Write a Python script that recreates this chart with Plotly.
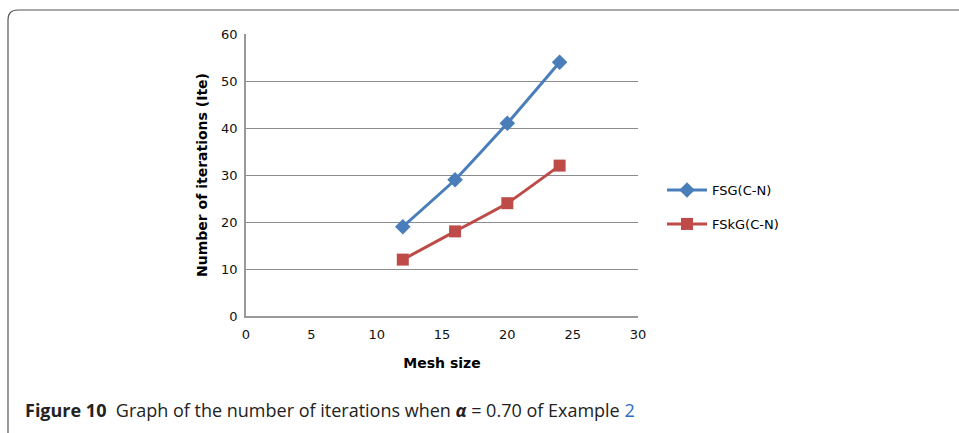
import plotly.graph_objects as go

mesh_size = [12, 16, 20, 24]
fsg_cn = [19, 29, 41, 54]
fskg_cn = [12, 18, 24, 32]
series_names = ["FSG(C-N)", "FSkG(C-N)"]
x_ticks = [0, 5, 10, 15, 20, 25, 30]
y_ticks = [0, 10, 20, 30, 40, 50, 60]

W, H = 959, 433
L, R, T, B = 246, 638, 34, 316

def px(x):
    return (x - L) / (R - L)

def py(y):
    return (B - y) / (B - T)

fig = go.Figure()
fig.add_trace(go.Scatter(
    x=mesh_size, y=fsg_cn, name=series_names[0], mode="lines+markers",
    line=dict(color="#4a7ebb", width=3, shape="spline", smoothing=0.3),
    marker=dict(symbol="diamond", size=12, color="#4a7ebb"),
    legend="legend",
))
fig.add_trace(go.Scatter(
    x=mesh_size, y=fskg_cn, name=series_names[1], mode="lines+markers",
    line=dict(color="#be4b48", width=3, shape="spline", smoothing=0.3),
    marker=dict(symbol="square", size=12, color="#be4b48"),
    legend="legend2",
))

axis_font = dict(family="DejaVu Sans, Verdana", size=13, color="#111111")
title_font = dict(family="DejaVu Sans, Verdana", size=14, color="#000000")
fig.update_xaxes(
    range=[0, 30], tickvals=x_ticks, showgrid=False, zeroline=False,
    showline=True, linecolor="#999999", linewidth=1.5,
    ticks="outside", ticklen=6, tickcolor="rgba(0,0,0,0)",
    tickfont=axis_font,
    title=dict(text="<b>Mesh size</b>", font=title_font, standoff=17),
)
fig.update_yaxes(
    range=[0, 60], tickvals=y_ticks, showgrid=True, gridcolor="#8c8c8c", gridwidth=1,
    zeroline=False, showline=True, linecolor="#999999", linewidth=1.5,
    ticks="outside", ticklen=4, tickcolor="rgba(0,0,0,0)",
    tickfont=axis_font,
    title=dict(text="<b>Number of iterations (Ite)</b>", font=title_font, standoff=10),
)

# rounded frame
r = 10
path = (f"M {px(8)} {py(440)} L {px(8)} {py(10 + r)} "
        f"Q {px(8)} {py(10)} {px(8 + r)} {py(10)} L {px(970)} {py(10)}")
fig.add_shape(type="path", path=path, xref="paper", yref="paper",
              line=dict(color="#555555", width=1.2), layer="below")

fig.add_annotation(
    x=px(23), y=py(410), xref="paper", yref="paper", xanchor="left", yanchor="middle",
    showarrow=False,
    text="<b>Figure 10</b>  Graph of the number of iterations when <b><i>α</i></b> = 0.70 of Example <span style='color:#2b6cc4'>2</span>",
    font=dict(family="Open Sans", size=18, color="#222222"),
)

leg_font = dict(family="DejaVu Sans, Verdana", size=13, color="#000")
fig.update_layout(
    width=W, height=H,
    margin=dict(l=L, r=W - R, t=T, b=H - B, pad=0),
    paper_bgcolor="white", plot_bgcolor="white",
    showlegend=True,
    legend=dict(x=px(662), y=py(190), xanchor="left", yanchor="middle",
                font=leg_font, itemwidth=40, bgcolor="rgba(0,0,0,0)"),
    legend2=dict(x=px(662), y=py(224), xanchor="left", yanchor="middle",
                 font=leg_font, itemwidth=40, bgcolor="rgba(0,0,0,0)"),
)

fig.write_html("out.html")
